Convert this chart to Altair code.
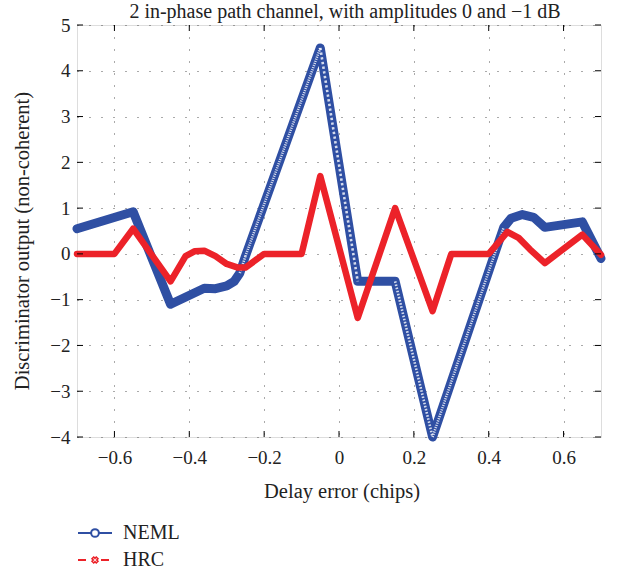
import math
import altair as alt
import pandas as pd

# ---- data -------------------------------------------------------------
series_names = ["NEML", "HRC"]
series_colors = ["#2f4fa3", "#ec2229"]

# NEML discriminator curve (delay error in chips, output)
neml_x = [-0.70, -0.55, -0.45, -0.36, -0.33, -0.30, -0.28, -0.265, -0.25,
          -0.05, 0.05, 0.15, 0.25, 0.42, 0.44, 0.46, 0.49, 0.52, 0.55, 0.65, 0.70]
neml_y = [0.55, 0.92, -1.10, -0.75, -0.76, -0.70, -0.60, -0.42, -0.05,
          4.50, -0.60, -0.60, -4.00, 0.10, 0.58, 0.78, 0.86, 0.80, 0.58, 0.70, -0.10]

# HRC discriminator curve
hrc_x = [-0.70, -0.60, -0.55, -0.45, -0.41, -0.385, -0.36, -0.33, -0.30, -0.27,
         -0.25, -0.20, -0.10, -0.05, 0.05, 0.15, 0.25, 0.30, 0.40, 0.45, 0.48,
         0.51, 0.55, 0.65, 0.70]
hrc_y = [0.00, 0.00, 0.55, -0.60, -0.05, 0.06, 0.07, -0.05, -0.22, -0.30,
         -0.30, 0.00, 0.00, 1.70, -1.40, 1.00, -1.25, 0.00, 0.00, 0.48, 0.35,
         0.10, -0.20, 0.42, -0.02]

x_ticks = [-0.6, -0.4, -0.2, 0, 0.2, 0.4, 0.6]
y_ticks = [-4, -3, -2, -1, 0, 1, 2, 3, 4, 5]

chart_title = "2 in-phase path channel, with amplitudes 0 and \u22121 dB"
x_title = "Delay error (chips)"
y_title = "Discriminator output (non-coherent)"

# ---- layout -----------------------------------------------------------
W, H = 524, 412
X_DOM, Y_DOM = [-0.7, 0.7], [-4, 5]
FONT = "Liberation Serif"
TEXT = "#222222"

neml_df = pd.DataFrame({"x": neml_x, "y": neml_y})
hrc_df = pd.DataFrame({"x": hrc_x, "y": hrc_y})
xt_df = pd.DataFrame({"x": x_ticks})
yt_df = pd.DataFrame({"y": y_ticks})
one = pd.DataFrame({"k": [0]})

# The NEML trace is a dense chain of open circles (one every 0.002 chips);
# on steep stretches the circles separate and leave small white holes.
# Mark those stretches so a white dashed stroke can hint at that texture.
px_per_x = W / (X_DOM[1] - X_DOM[0])
px_per_y = H / (Y_DOM[1] - Y_DOM[0])
step = 0.002
seg_rows, seg_dash = [], {}
for i in range(len(neml_x) - 1):
    dx = neml_x[i + 1] - neml_x[i]
    slope = (neml_y[i + 1] - neml_y[i]) / dx
    if abs(slope) < 21:
        continue
    period = math.hypot(step * px_per_x, step * slope * px_per_y)
    hole = 0.5 * period
    key = f"s{i}"
    seg_dash[key] = [round(hole, 2), round(period - hole, 2)]
    seg_rows.append({"x": neml_x[i], "y": neml_y[i], "seg": key})
    seg_rows.append({"x": neml_x[i + 1], "y": neml_y[i + 1], "seg": key})
steep_df = pd.DataFrame(seg_rows)

x_scale = alt.Scale(domain=X_DOM, nice=False, zero=False)
y_scale = alt.Scale(domain=Y_DOM, nice=False, zero=False)

axis_common = dict(format="~g", title=None, grid=True, gridDash=[1, 11],
                   gridColor="#555555", gridWidth=1, ticks=False, domain=False,
                   labelFont=FONT, labelFontSize=19, labelColor=TEXT,
                   labelFlush=False)
x_axis = alt.Axis(values=x_ticks, labelPadding=11, **axis_common)
y_axis = alt.Axis(values=y_ticks, labelPadding=7, **axis_common)

# grid + axes carrier
axes_layer = alt.Chart(neml_df).mark_line(opacity=0).encode(
    x=alt.X("x:Q", scale=x_scale, axis=x_axis),
    y=alt.Y("y:Q", scale=y_scale, axis=y_axis),
)

# inward ticks on all four sides
tick_style = dict(color="black", strokeWidth=1)
bottom_ticks = alt.Chart(xt_df).mark_rule(**tick_style).encode(
    x=alt.X("x:Q", scale=x_scale), y=alt.value(H), y2=alt.value(H - 6))
top_ticks = alt.Chart(xt_df).mark_rule(**tick_style).encode(
    x=alt.X("x:Q", scale=x_scale), y=alt.value(0), y2=alt.value(6))
left_ticks = alt.Chart(yt_df).mark_rule(**tick_style).encode(
    y=alt.Y("y:Q", scale=y_scale), x=alt.value(0), x2=alt.value(6))
right_ticks = alt.Chart(yt_df).mark_rule(**tick_style).encode(
    y=alt.Y("y:Q", scale=y_scale), x=alt.value(W), x2=alt.value(W - 6))

# curves
neml_line = alt.Chart(neml_df).mark_line(
    color=series_colors[0], strokeWidth=9, strokeCap="round", strokeJoin="round"
).encode(x=alt.X("x:Q", scale=x_scale), y=alt.Y("y:Q", scale=y_scale))

neml_holes = alt.Chart(steep_df).mark_line(
    color="white", strokeWidth=2.6, opacity=0.8, strokeCap="butt"
).encode(
    x=alt.X("x:Q", scale=x_scale),
    y=alt.Y("y:Q", scale=y_scale),
    detail="seg:N",
    strokeDash=alt.StrokeDash(
        "seg:N",
        scale=alt.Scale(domain=list(seg_dash.keys()), range=list(seg_dash.values())),
        legend=None,
    ),
)

hrc_line = alt.Chart(hrc_df).mark_line(
    color=series_colors[1], strokeWidth=6.5, strokeCap="round", strokeJoin="round"
).encode(x=alt.X("x:Q", scale=x_scale), y=alt.Y("y:Q", scale=y_scale))

# titles
title_txt = alt.Chart(one).mark_text(
    text=chart_title, font=FONT, fontSize=20, color=TEXT, align="center",
    baseline="alphabetic").encode(x=alt.value(268), y=alt.value(-7))
xtitle_txt = alt.Chart(one).mark_text(
    text=x_title, font=FONT, fontSize=20.5, color=TEXT, align="center",
    baseline="alphabetic").encode(x=alt.value(265), y=alt.value(473))
ytitle_txt = alt.Chart(one).mark_text(
    text=y_title, font=FONT, fontSize=20.5, color=TEXT, align="center",
    baseline="middle", angle=270).encode(x=alt.value(-54), y=alt.value(216))

# legend
leg_y = [508, 535]
leg_neml_line = alt.Chart(one).mark_rule(color=series_colors[0], strokeWidth=2).encode(
    x=alt.value(1), x2=alt.value(35), y=alt.value(leg_y[0]))
leg_neml_pt = alt.Chart(one).mark_point(
    shape="circle", size=60, filled=True, fill="white", stroke=series_colors[0],
    strokeWidth=2, opacity=1).encode(x=alt.value(18), y=alt.value(leg_y[0]))
leg_hrc_line = alt.Chart(one).mark_rule(
    color=series_colors[1], strokeWidth=2, strokeDash=[8, 15]).encode(
    x=alt.value(1), x2=alt.value(35), y=alt.value(leg_y[1]))
leg_hrc_x = alt.Chart(one).mark_point(
    shape="cross", size=36, filled=False, color=series_colors[1], strokeWidth=1.6,
    angle=45, opacity=1).encode(x=alt.value(18), y=alt.value(leg_y[1]))
leg_text = alt.Chart(pd.DataFrame({"name": series_names, "ly": leg_y})).mark_text(
    font=FONT, fontSize=20, color=TEXT, align="left", baseline="middle").encode(
    x=alt.value(46), y=alt.Y("ly:Q", scale=None), text="name:N")

chart = alt.layer(
    axes_layer, neml_line, neml_holes, hrc_line,
    bottom_ticks, top_ticks, left_ticks, right_ticks,
    title_txt, xtitle_txt, ytitle_txt,
    leg_neml_line, leg_neml_pt, leg_hrc_line, leg_hrc_x, leg_text,
).properties(
    width=W, height=H,
    autosize=alt.AutoSizeParams(type="none"),
    padding={"left": 77, "top": 25, "right": 21, "bottom": 136},
).configure_view(stroke="black", strokeWidth=1.2).configure(background="white")

chart.save("out.html", embed_options={"renderer": "svg", "actions": False})
